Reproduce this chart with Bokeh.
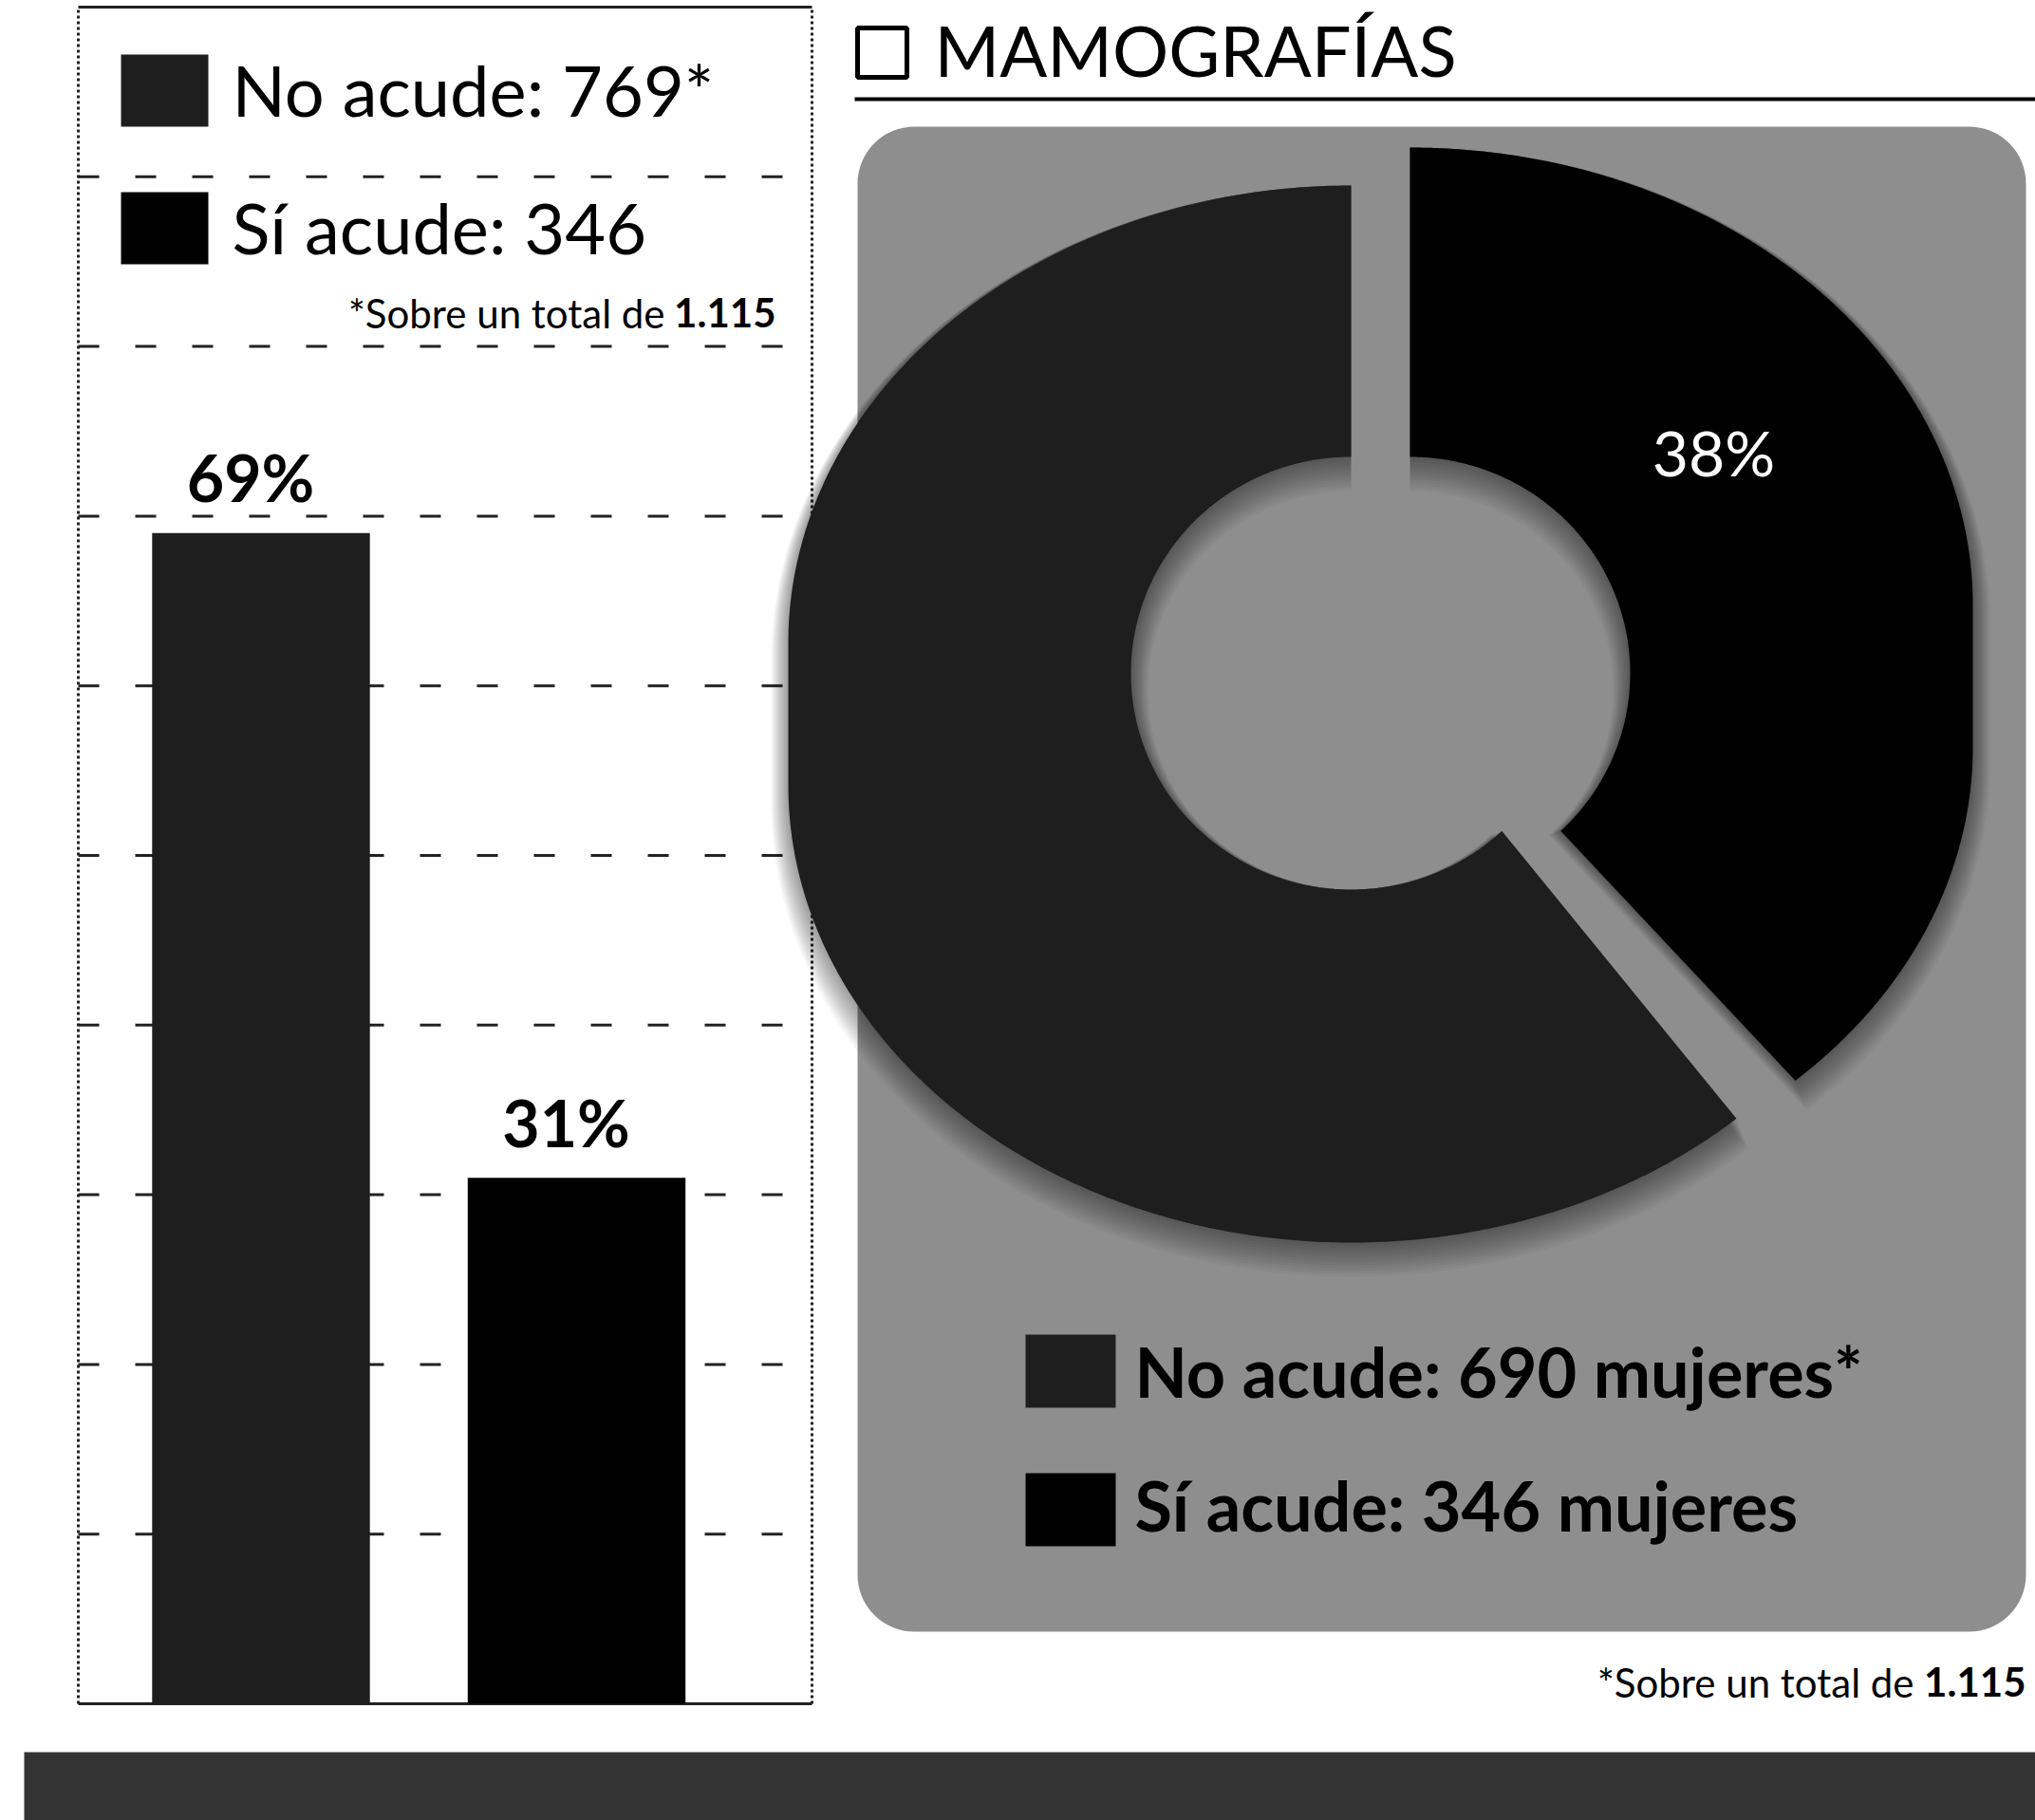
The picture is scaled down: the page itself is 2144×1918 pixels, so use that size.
import numpy as np
from bokeh.plotting import figure
from bokeh.models import Range1d
from bokeh.core.properties import value
from bokeh.embed import file_html
from bokeh.resources import INLINE

# ---------------- data ----------------
bar_categories = ["No acude", "Sí acude"]
bar_pct = [69, 31]
bar_labels = ["69%", "31%"]
legend_left = ["No acude: 769*", "Sí acude: 346"]
grid_pct = [10, 20, 30, 40, 50, 60, 70, 80, 90]

pie_categories = ["No acude", "Sí acude"]
pie_pct = [62, 38]
pie_labels = ["", "38%"]
legend_right = ["No acude: 690 mujeres*", "Sí acude: 346 mujeres"]

footnote_text = "*Sobre un total de"
footnote_total = "1.115"
title_text = "MAMOGRAFÍAS"

# ---------------- styles ----------------
C_NO = "#1e1e1e"
C_SI = "#000000"
C_GRAY = "#8e8e8e"
FONT = value("Lato")
BASE_FIX = 0.38   # em shift so that the glyph baseline lands on the given y

W, H = 2144, 1918
X0, X1, Y0, Y1 = 0, W, 0, H

p = figure(width=W, height=H, x_range=Range1d(X0, X1), y_range=Range1d(Y1, Y0),
           x_axis_type=None, y_axis_type=None, output_backend="svg",
           toolbar_location=None, min_border=0)
p.outline_line_color = None
p.background_fill_color = "white"
p.border_fill_color = "white"


def txt(x, y, text, size, align="left", bold=False, color="black", **kw):
    p.text(x=x, y=y, text=text, text_align=align, text_baseline="alphabetic",
           y_offset=kw.pop("y_offset", 0) - round(BASE_FIX * size),
           text_font=FONT, text_font_style="bold" if bold else "normal",
           text_font_size=f"{size}px", text_color=color, **kw)


# ----- bar chart scales (percent axis and category index axis) -----
base_y, px_per_pct = 1795, 17.88
bar_x0, bar_step = 274.5, 332.5
p.extra_y_ranges = {"pct": Range1d(-(Y1 - base_y) / px_per_pct, (base_y - Y0) / px_per_pct)}
p.extra_x_ranges = {"bx": Range1d((X0 - bar_x0) / bar_step, (X1 - bar_x0) / bar_step)}
box_l = (82 - bar_x0) / bar_step
box_r = (855 - bar_x0) / bar_step
idx = list(range(len(bar_categories)))

# dashed horizontal grid inside the box
p.segment(x0=[box_l] * len(grid_pct), x1=[box_r] * len(grid_pct), y0=grid_pct, y1=grid_pct,
          x_range_name="bx", y_range_name="pct", line_color="#222222", line_width=3,
          line_dash="22 38")
# box outline
p.segment(x0=[box_l, box_r], x1=[box_l, box_r], y0=[0, 0], y1=[100, 100],
          x_range_name="bx", y_range_name="pct", line_color="#222222", line_width=3,
          line_dash="3 3")
p.segment(x0=[box_l, box_l], x1=[box_r, box_r], y0=[0, 100], y1=[0, 100],
          x_range_name="bx", y_range_name="pct", line_color="#222222", line_width=3)

# bars
p.vbar(x=idx, top=bar_pct, bottom=0, width=0.69, fill_color=[C_NO, C_SI], line_color=None,
       x_range_name="bx", y_range_name="pct")
txt(idx, bar_pct, bar_labels, 68, align="center", bold=True, x_range_name="bx",
    y_range_name="pct", x_offset=-11, y_offset=-33)

# left legend
leg_top, leg_step, sq = 57, 145, 76
tops = [leg_top + i * leg_step for i in range(len(legend_left))]
p.quad(left=[127] * 2, right=[219] * 2, top=tops, bottom=[t + sq for t in tops],
       fill_color=[C_NO, C_SI], line_color=None)
txt([244] * 2, [t + 65 for t in tops], legend_left, 74)
txt([700], [345], [footnote_text], 42, align="right")
txt([817], [345], [footnote_total], 42, align="right", bold=True)

# ---------------- right panel ----------------
p.quad(left=[903], right=[955], top=[29], bottom=[81], fill_color="white",
       line_color="black", line_width=5)
txt([984], [80], [title_text], 74)
p.segment(x0=[900], x1=[X1], y0=[104], y1=[104], line_color="black", line_width=4)

p.quad(left=[903], right=[2134], top=[133], bottom=[1719], border_radius=60,
       fill_color=C_GRAY, line_color=None)

# donut (3D-looking ring: elliptical top face extruded downwards)
rx, ry, depth = 593, 482, 150
hrx, hry, hole_cy = 232, 228, 709
centers = [(1423, 677), (1485, 637)]


def ring_slice(a0, a1, cx, cy, dy=0.0, grow=0.0, n=500):
    th = np.radians(np.linspace(a0, a1, n))
    s = np.sin(th)
    ox = cx + (rx + grow) * np.cos(th)
    oy = cy - (ry + grow) * s + depth * (s < 0) + dy
    ix = cx + (hrx - grow) * np.cos(th[::-1])
    iy = hole_cy - (hry - grow) * np.sin(th[::-1]) + dy
    return list(np.concatenate([ox, ix])), list(np.concatenate([oy, iy]))


fracs = np.array(pie_pct, dtype=float) / sum(pie_pct)
angles = 90.0 + 360.0 * np.concatenate([[0.0], np.cumsum(fracs)])

# soft blurred shadow under the ring
for k in range(12, 0, -1):
    sxs, sys_ = [], []
    for i, (cx, cy) in enumerate(centers):
        sx, sy = ring_slice(angles[i], angles[i + 1], cx, cy, dy=1.5 * k, grow=1.5 * k)
        sxs.append(sx)
        sys_.append(sy)
    p.patches(xs=sxs, ys=sys_, fill_color="black", fill_alpha=0.035, line_color=None)

xs, ys = [], []
for i, (cx, cy) in enumerate(centers):
    sx, sy = ring_slice(angles[i], angles[i + 1], cx, cy)
    xs.append(sx)
    ys.append(sy)
p.patches(xs=xs, ys=ys, fill_color=[C_NO, C_SI], line_color=None)

txt([1805], [501], [pie_labels[1]], 66, align="center", color="white")

# right legend
rtops = [1406, 1552]
p.quad(left=[1080] * 2, right=[1175] * 2, top=rtops, bottom=[t + 77 for t in rtops],
       fill_color=[C_NO, C_SI], line_color=None)
txt([1195] * 2, [1471, 1612], legend_right, 72, bold=True)

txt([2016], [1788], [footnote_text], 42, align="right")
txt([2134], [1788], [footnote_total], 42, align="right", bold=True)

# bottom band
p.quad(left=[25], right=[X1], top=[1846], bottom=[Y1], fill_color="#333333", line_color=None)

open("out.html", "w").write(file_html(p, INLINE))
